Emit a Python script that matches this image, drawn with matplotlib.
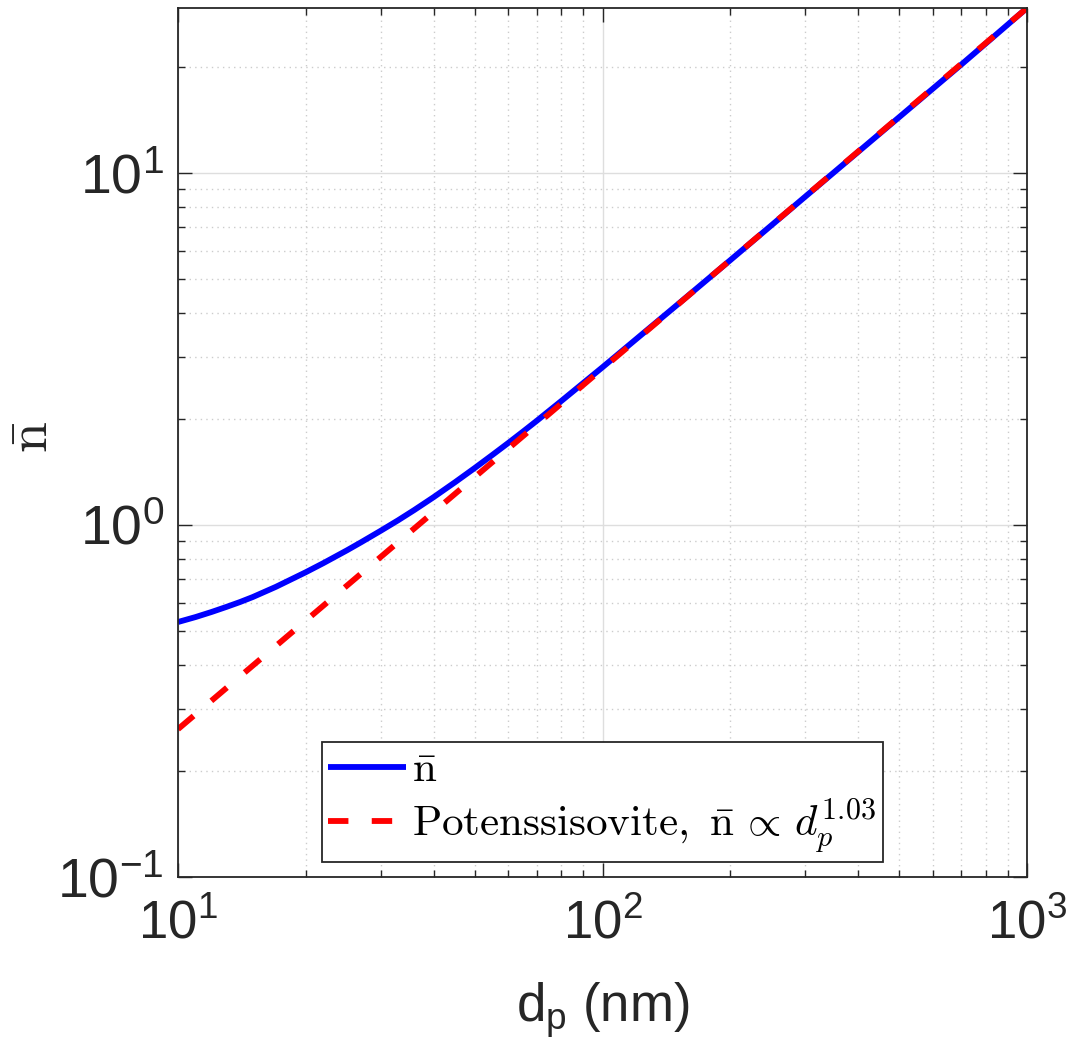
import matplotlib
matplotlib.use("Agg")
import matplotlib.pyplot as plt
from matplotlib.font_manager import FontProperties
from matplotlib.ticker import LogLocator, NullFormatter

# ---- data ----
d_blue = [10, 11, 12, 13, 14, 15, 17, 20, 22, 25, 27, 30, 33, 36, 40, 45, 50, 55, 60, 65,
          70, 80, 90, 100, 150, 200, 300, 500, 700, 1000]
n_blue = [0.530, 0.5475, 0.566, 0.585, 0.604, 0.624, 0.667, 0.734, 0.779, 0.847, 0.893,
          0.962, 1.031, 1.102, 1.199, 1.324, 1.451, 1.58, 1.71, 1.842, 1.976, 2.25, 2.528,
          2.805, 4.22, 5.65, 8.55, 14.4, 20.3, 29.4]
d_fit = [10, 20, 50, 100, 200, 500, 1000]
n_fit = [0.263, 0.535, 1.367, 2.78, 5.655, 14.45, 29.4]

label_blue = r'$\bar{\mathrm{n}}$'
label_fit = r'$\mathrm{Potenssisovite,}\ \bar{\mathrm{n}}\,\propto\,d_p^{1.03}$'
xlabel = r'd$_\mathregular{p}$ (nm)'
ylabel = r'$\bar{\mathrm{n}}$'

plt.rcParams['font.family'] = ['Liberation Sans', 'DejaVu Sans']
plt.rcParams['mathtext.fontset'] = 'custom'
plt.rcParams['mathtext.rm'] = 'Liberation Sans'
plt.rcParams['mathtext.it'] = 'Liberation Sans:italic'
plt.rcParams['mathtext.bf'] = 'Liberation Sans:bold'

fig = plt.figure(figsize=(10.70, 10.52), dpi=100)
ax = fig.add_axes([178/1070, 1 - 877/1052, (1027-178)/1070, (877-8)/1052])

lw = 4.2
ax.plot(d_blue, n_blue, color=(0, 0, 1), lw=lw, label=label_blue, solid_capstyle='butt')
ax.plot(d_fit, n_fit, color=(1, 0, 0), lw=lw, linestyle=(0, (3.5, 4.0)), label=label_fit,
        dash_capstyle='butt')

ax.set_xscale('log')
ax.set_yscale('log')
ax.set_xlim(10, 1000)
ax.set_ylim(0.1, 29.4)

ax.xaxis.set_major_locator(LogLocator(base=10, numticks=10))
ax.yaxis.set_major_locator(LogLocator(base=10, numticks=10))
ax.xaxis.set_minor_locator(LogLocator(base=10, subs=range(2, 10), numticks=20))
ax.yaxis.set_minor_locator(LogLocator(base=10, subs=range(2, 10), numticks=20))
ax.xaxis.set_minor_formatter(NullFormatter())
ax.yaxis.set_minor_formatter(NullFormatter())

ax.grid(True, which='major', color=(0.87, 0.87, 0.87), lw=1.0, linestyle='-')
ax.grid(True, which='minor', color=(0.80, 0.80, 0.80), lw=1.0, linestyle=(0, (1, 3)))
ax.set_axisbelow(True)

spc = (0.15, 0.15, 0.15)
for s in ax.spines.values():
    s.set_color(spc)
    s.set_linewidth(1.3)

ax.tick_params(which='both', direction='in', top=True, right=True, color=spc, width=1.0)
ax.tick_params(which='major', length=10)
ax.tick_params(which='minor', length=5)
ax.tick_params(axis='x', which='major', labelsize=38, pad=16, labelcolor=spc)
ax.tick_params(axis='y', which='major', labelsize=40, pad=10, labelcolor=spc)

ax.set_xlabel(xlabel, fontsize=38, color=spc, labelpad=22)
ax.set_ylabel(ylabel, fontsize=40, color=spc, math_fontfamily='cm')
ax.yaxis.set_label_coords(-(178 - 60) / 849, 0.506)

prop = FontProperties(family='DejaVu Serif', size=31, math_fontfamily='cm')
leg = ax.legend(loc='lower left', bbox_to_anchor=(0.1696, 0.0173), borderaxespad=0,
                prop=prop, fancybox=False, framealpha=1, edgecolor=spc,
                handlelength=1.8, handletextpad=0.15, borderpad=0.15, labelspacing=0.12)
leg.get_frame().set_linewidth(1.3)

fig.savefig('out.png', dpi=100)
